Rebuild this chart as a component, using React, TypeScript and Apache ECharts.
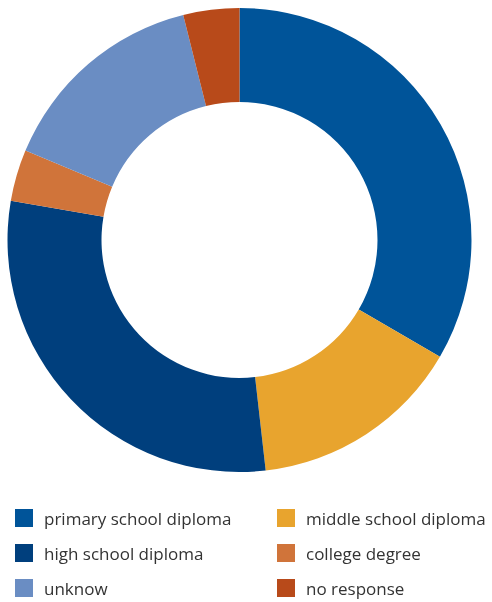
import React, { useEffect, useRef } from "react";
import * as echarts from "echarts";

const categories = [
  "primary school diploma",
  "middle school diploma",
  "high school diploma",
  "college degree",
  "unknow",
  "no response",
];
const values = [33.4, 14.8, 29.5, 3.6, 14.8, 3.9];
const colors = ["#005499", "#e8a42e", "#003f7d", "#d0743a", "#6a8dc3", "#b84a1a"];
const leftLegend = ["primary school diploma", "high school diploma", "unknow"];
const rightLegend = ["middle school diploma", "college degree", "no response"];

export default function App() {
  const ref = useRef<HTMLDivElement>(null);
  useEffect(() => {
    if (!ref.current) return;
    const chart = echarts.init(ref.current, undefined, { renderer: "svg" });
    const legendBase = {
      orient: "vertical" as const,
      top: 509,
      height: 100,
      padding: 0,
      itemWidth: 18,
      itemHeight: 18,
      itemGap: 17,
      icon: "rect",
      selectedMode: false,
      textStyle: {
        fontFamily: "Open Sans",
        fontSize: 17,
        color: "#333333",
        lineHeight: 18,
        padding: [0, 0, 0, 6],
      },
    };
    chart.setOption({
      animation: false,
      color: colors,
      legend: [
        { ...legendBase, left: 15, data: leftLegend },
        { ...legendBase, left: 277, data: rightLegend },
      ],
      series: [
        {
          type: "pie",
          center: [239.5, 240],
          radius: [138, 232],
          startAngle: 90,
          clockwise: true,
          label: { show: false },
          labelLine: { show: false },
          itemStyle: { borderWidth: 0 },
          emphasis: { disabled: true },
          data: categories.map((c, i) => ({ name: c, value: values[i] })),
        },
      ],
    });
    return () => chart.dispose();
  }, []);
  return (
    <div
      ref={ref}
      style={{ position: "fixed", left: 0, top: 0, width: 492, height: 602 }}
    />
  );
}
